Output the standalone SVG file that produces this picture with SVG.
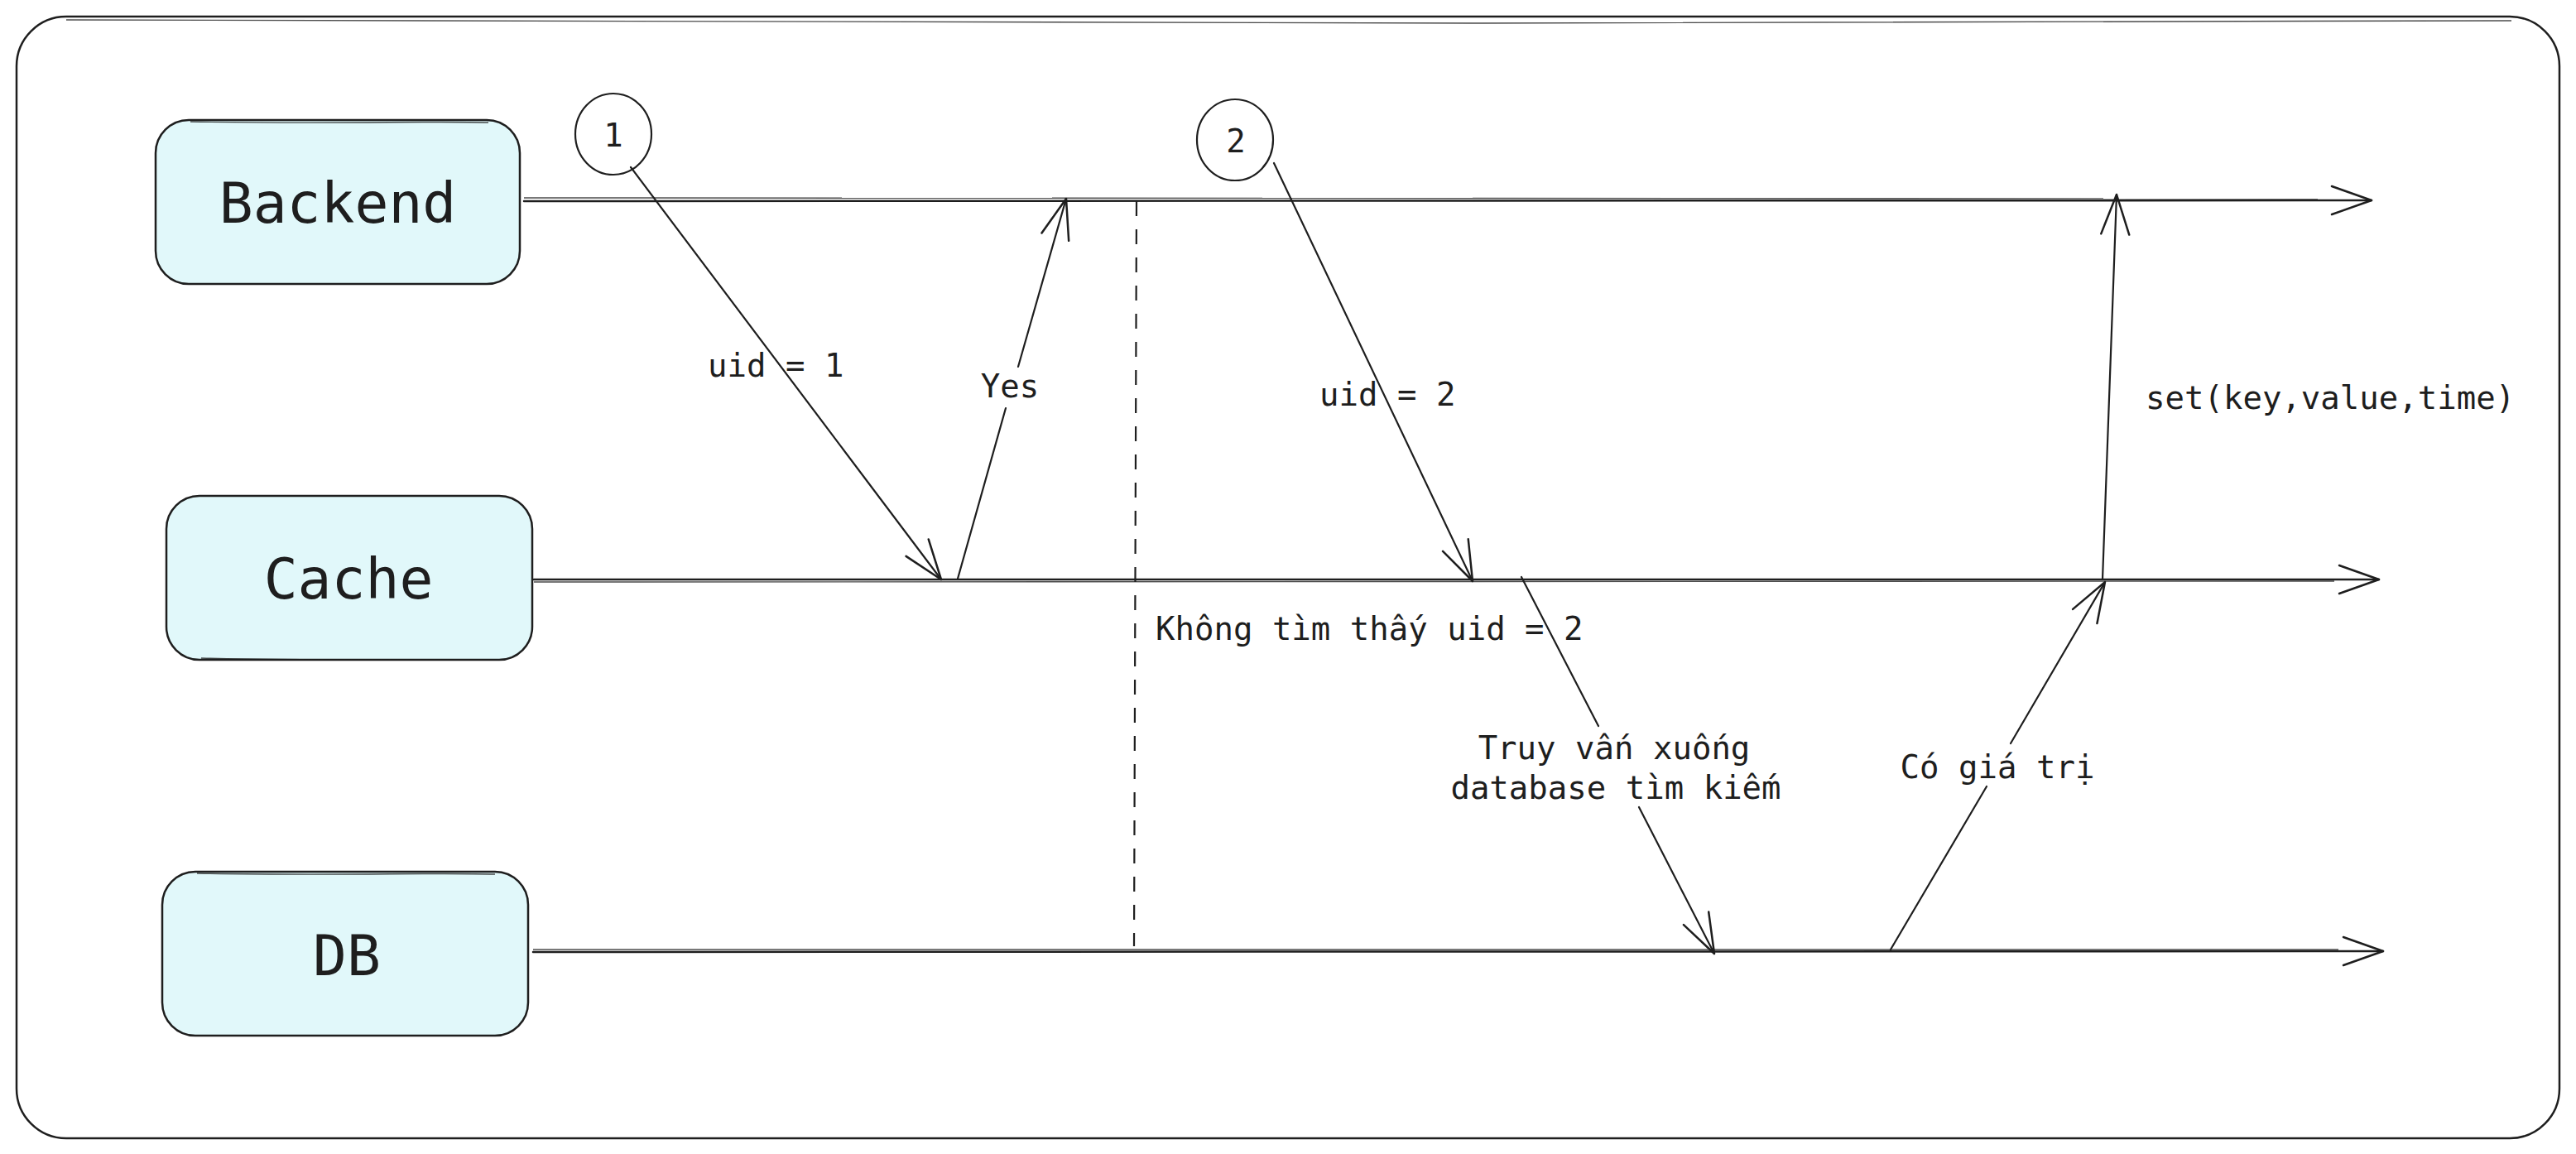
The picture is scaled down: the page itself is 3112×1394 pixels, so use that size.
<svg xmlns="http://www.w3.org/2000/svg" width="3112" height="1394" viewBox="0 0 3112 1394">
  <style>
    .frame { fill: #ffffff; stroke: #1e1e1e; stroke-width: 2.5; }
    .box { fill: #e1f8fa; stroke: #1e1e1e; stroke-width: 2.5; }
    .sketch { fill: none; stroke: #1e1e1e; stroke-width: 1.4; opacity: 0.8; }
    .circ { fill: none; stroke: #1e1e1e; stroke-width: 2.2; }
    .node-text { font-family: "DejaVu Sans Mono", "Liberation Mono", monospace; font-size: 68px; fill: #1e1e1e; text-anchor: middle; }
    .lbl { font-family: "DejaVu Sans Mono", "Liberation Mono", monospace; font-size: 39px; fill: #1e1e1e; }
    .mid { text-anchor: middle; }
    .line { fill: none; stroke: #1e1e1e; stroke-width: 2.5; stroke-linecap: round; stroke-linejoin: round; }
    .arrow { fill: none; stroke: #1e1e1e; stroke-width: 2.2; stroke-linecap: round; stroke-linejoin: round; }
    .dash { fill: none; stroke: #1e1e1e; stroke-width: 2.2; stroke-dasharray: 18 16; }
  </style>
  <defs>
    <marker id="open-arrow" markerUnits="userSpaceOnUse" markerWidth="120" markerHeight="120" refX="0" refY="0" viewBox="-60 -60 120 120" orient="auto" overflow="visible">
      <path d="M-48,-17 L0,0 L-48,17" fill="none" stroke="#1e1e1e" stroke-width="2.5" stroke-linecap="round" stroke-linejoin="round"/>
    </marker>
  </defs>

  <g id="frame">
    <rect class="frame" x="20" y="20" width="3072" height="1355" rx="60" ry="60"/>
    <path class="sketch" d="M80,24 C900,28 2100,30 3034,25"/>
  </g>

  <g id="node-backend">
    <rect class="box" x="188" y="145" width="440" height="198" rx="40" ry="40"/>
    <path class="sketch" d="M230,147 C400,150 520,146 590,148"/>
    <text class="node-text" x="408" y="269">Backend</text>
  </g>

  <g id="node-cache">
    <rect class="box" x="201" y="599" width="442" height="198" rx="40" ry="40"/>
    <path class="sketch" d="M243,795 C400,799 520,796 602,797"/>
    <text class="node-text" x="421" y="723">Cache</text>
  </g>

  <g id="node-db">
    <rect class="box" x="196" y="1053" width="442" height="198" rx="40" ry="40"/>
    <path class="sketch" d="M238,1055 C400,1058 520,1054 598,1056"/>
    <text class="node-text" x="419" y="1178">DB</text>
  </g>

  <g id="node-step1">
    <ellipse class="circ" cx="741" cy="162" rx="46" ry="49"/>
    <text class="lbl mid" x="741" y="177">1</text>
  </g>

  <g id="node-step2">
    <ellipse class="circ" cx="1492" cy="169" rx="46" ry="49"/>
    <text class="lbl mid" x="1493" y="184">2</text>
  </g>

  <g id="connectors">
    <path class="line" d="M633,243 L2865,242" marker-end="url(#open-arrow)"/>
    <path class="sketch" d="M633,239 L2800,240"/>
    <path class="line" d="M645,700 L2874,700" marker-end="url(#open-arrow)"/>
    <path class="sketch" d="M645,703 L2820,702"/>
    <path class="line" d="M644,1150 L2879,1149" marker-end="url(#open-arrow)"/>
    <path class="sketch" d="M644,1147 L2825,1147"/>
    <path class="dash" d="M1373,243 L1370,1143"/>
    <path class="arrow" d="M762,202 L1137,700" marker-end="url(#open-arrow)"/>
    <path class="arrow" d="M1157,699 L1215,493 M1230,443 L1288,240" marker-end="url(#open-arrow)"/>
    <path class="arrow" d="M1539,197 L1779,702" marker-end="url(#open-arrow)"/>
    <path class="arrow" d="M1838,697 L1931,877 M1980,975 L2071,1152" marker-end="url(#open-arrow)"/>
    <path class="arrow" d="M2284,1147 L2400,950 M2429,898 L2543,703" marker-end="url(#open-arrow)"/>
    <path class="arrow" d="M2540,700 L2557,235" marker-end="url(#open-arrow)"/>
  </g>

  <g id="labels">
    <text class="lbl" x="855" y="455">uid = 1</text>
    <text class="lbl mid" x="1220" y="480">Yes</text>
    <text class="lbl" x="1594" y="490">uid = 2</text>
    <text class="lbl" x="2592" y="494">set(key,value,time)</text>
    <text class="lbl" x="1396" y="773">Không tìm thấy uid = 2</text>
    <text class="lbl mid" x="1950" y="917">Truy vấn xuống</text>
    <text class="lbl mid" x="1952" y="965">database tìm kiếm</text>
    <text class="lbl mid" x="2413" y="940">Có giá trị</text>
  </g>
</svg>
